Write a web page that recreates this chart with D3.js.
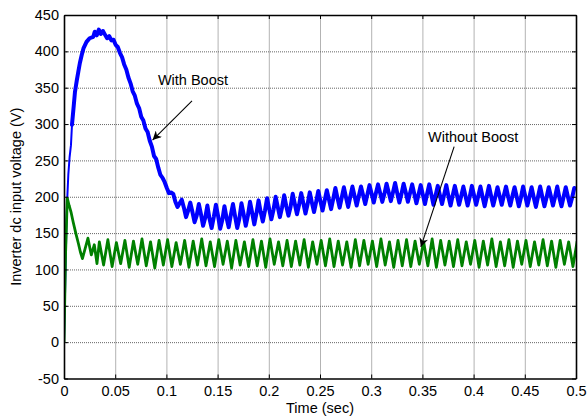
<!DOCTYPE html>
<html>
<head>
<meta charset="utf-8">
<script src="https://cdn.jsdelivr.net/npm/d3@7"></script>
<style>
  html, body { margin: 0; padding: 0; background: #fff; }
  svg { display: block; }
  text { font-family: "Liberation Sans", Arial, Helvetica, sans-serif; fill: #000; }
</style>
</head>
<body>
<svg id="chart" width="588" height="417"></svg>
<script>
// ---- data -------------------------------------------------------------
const xTickValues = [0, 0.05, 0.1, 0.15, 0.2, 0.25, 0.3, 0.35, 0.4, 0.45, 0.5];
const xTickLabels = ["0", "0.05", "0.1", "0.15", "0.2", "0.25", "0.3", "0.35", "0.4", "0.45", "0.5"];
const yTickValues = [-50, 0, 50, 100, 150, 200, 250, 300, 350, 400, 450];
const yTickLabels = ["-50", "0", "50", "100", "150", "200", "250", "300", "350", "400", "450"];

// With Boost: start-up transient as [time, volts]
const boostStartup = [
  [0, 0], [0.0015, 100], [0.0025, 170], [0.0032, 198], [0.0042, 230], [0.0055, 255],
  [0.0068, 271], [0.0078, 299], [0.0095, 325], [0.0107, 344], [0.0125, 360], [0.014, 372],
  [0.0155, 384], [0.0173, 395], [0.019, 404], [0.022, 413], [0.025, 418], [0.0286, 420],
  [0.030, 427], [0.032, 422], [0.034, 430], [0.036, 424], [0.038, 428]
];
// With Boost: samples every 1/480 s from 0.04 s onward
const boostStart = 0.04;
const boostStep = 1 / 480;
const boostSamples = [
  423, 418, 421, 415, 416, 409, 406, 398, 392, 382, 375, 364, 356, 345, 339, 328, 322, 310, 305, 294, 289, 277, 269, 256,
  252, 240, 230, 226, 220, 212, 205, 206, 204, 193, 186, 191, 196, 185, 172, 181, 192, 179, 165, 174, 190, 176, 160, 171,
  188, 170, 157, 172, 189, 174, 156, 168, 187, 171, 158, 175, 190, 173, 157, 170, 191, 176, 160, 174, 193, 178, 162, 177,
  195, 179, 166, 181, 198, 183, 169, 182, 200, 186, 172, 185, 202, 187, 174, 186, 204, 190, 176, 189, 205, 191, 177, 190,
  206, 192, 179, 193, 208, 194, 181, 195, 209, 196, 183, 197, 212, 198, 185, 199, 213, 199, 186, 200, 214, 201, 188, 201,
  214, 202, 190, 203, 216, 204, 192, 205, 217, 205, 193, 204, 218, 206, 194, 206, 219, 205, 192, 204, 218, 206, 193, 205,
  217, 204, 191, 203, 216, 203, 190, 204, 217, 203, 189, 202, 215, 202, 190, 203, 216, 201, 188, 202, 215, 202, 189, 201,
  214, 201, 188, 200, 215, 202, 189, 201, 214, 200, 187, 201, 215, 201, 188, 200, 213, 201, 189, 202, 214, 200, 188, 201,
  213, 200, 187, 199, 214, 201, 188, 200, 213, 199, 186, 200, 214, 200, 187, 199, 213, 201, 188, 200, 214, 199, 187, 200,
  213, 200, 188, 199, 212
];

// Without Boost: start-up transient as [time, volts]
const plainStartup = [
  [0, 0], [0.0015, 120], [0.0032, 198], [0.005, 188], [0.007, 178], [0.009, 165],
  [0.0115, 150], [0.014, 136], [0.016, 124], [0.018, 115], [0.0205, 128], [0.0234, 143],
  [0.0255, 128], [0.0267, 120], [0.0296, 134], [0.0322, 108]
];
// Without Boost: ripple peaks and troughs every 1/240 s from 0.0345 s onward
const plainStart = 0.0345;
const plainStep = 1 / 240;
const plainSamples = [
  138, 106, 141, 104, 137, 108, 140, 103, 139, 107, 142, 105, 138, 102, 140, 106, 141, 104, 137, 107,
  140, 103, 139, 106, 142, 105, 138, 104, 141, 107, 139, 102, 140, 106, 138, 104, 141, 105, 139, 103,
  142, 107, 138, 105, 140, 104, 139, 106, 141, 103, 138, 107, 140, 105, 142, 104, 139, 106, 138, 103,
  141, 105, 140, 107, 139, 104, 142, 106, 138, 103, 140, 105, 141, 104, 139, 107, 138, 105, 142, 103,
  140, 106, 139, 104, 141, 105, 138, 107, 140, 103, 139, 106, 142, 104, 138, 105, 141, 103, 139, 107,
  140, 104, 138, 106, 141, 105, 139, 103, 140, 107, 138, 104, 139
];

// ---- layout -----------------------------------------------------------
const svg = d3.select("#chart");
const plot = { left: 64, right: 576, top: 15, bottom: 378.5 };
const W = plot.right - plot.left, H = plot.bottom - plot.top;

const x = d3.scaleLinear().domain([0, 0.5]).range([plot.left, plot.right]);
const y = d3.scaleLinear().domain([-50, 450]).range([plot.bottom, plot.top]);

const FONT = 14.5;

// background
svg.append("rect").attr("width", 588).attr("height", 417).attr("fill", "#fff");

// dotted grid
const grid = svg.append("g").attr("class", "grid");
grid.append("g")
  .attr("transform", `translate(0,${plot.bottom})`)
  .call(d3.axisBottom(x).tickValues(xTickValues.slice(1, -1)).tickSize(-H).tickFormat(""));
grid.append("g")
  .attr("transform", `translate(${plot.left},0)`)
  .call(d3.axisLeft(y).tickValues(yTickValues.slice(1, -1)).tickSize(-W).tickFormat(""));
grid.selectAll(".domain").remove();
grid.selectAll("line")
  .attr("stroke", "#666").attr("stroke-width", 1).attr("stroke-dasharray", "1,1");

// traces
svg.append("clipPath").attr("id", "clip")
  .append("rect").attr("x", plot.left).attr("y", plot.top).attr("width", W).attr("height", H);

const boostSeries = boostStartup.concat(boostSamples.map((v, i) => [boostStart + i * boostStep, v]));
const plainSeries = plainStartup.concat(plainSamples.map((v, i) => [plainStart + i * plainStep, v]));

const line = d3.line().x(d => x(d[0])).y(d => y(d[1]));
const traces = svg.append("g").attr("clip-path", "url(#clip)");
// thin initial rise, then the thicker, noisy part of the trace
traces.append("path").datum(boostSeries.slice(0, 9)).attr("d", line)
  .attr("fill", "none").attr("stroke", "#0000ff").attr("stroke-width", 2)
  .attr("stroke-linejoin", "round");
traces.append("path").datum(boostSeries.slice(7)).attr("d", line)
  .attr("fill", "none").attr("stroke", "#0000ff").attr("stroke-width", 4)
  .attr("stroke-linejoin", "round").attr("stroke-linecap", "round");
traces.append("path").datum(plainSeries).attr("d", line)
  .attr("fill", "none").attr("stroke", "#008000").attr("stroke-width", 2.8)
  .attr("stroke-linejoin", "round");

// axes with inward ticks on all four sides
const TICK = 4;
const fmtX = (d, i) => xTickLabels[i];
const fmtY = (d, i) => yTickLabels[i];

const axB = svg.append("g").attr("transform", `translate(0,${plot.bottom})`)
  .call(d3.axisBottom(x).tickValues(xTickValues).tickFormat(fmtX).tickSizeInner(-TICK).tickSizeOuter(0).tickPadding(7));
const axL = svg.append("g").attr("transform", `translate(${plot.left},0)`)
  .call(d3.axisLeft(y).tickValues(yTickValues).tickFormat(fmtY).tickSizeInner(-TICK).tickSizeOuter(0).tickPadding(5));
const axT = svg.append("g").attr("transform", `translate(0,${plot.top})`)
  .call(d3.axisTop(x).tickValues(xTickValues).tickFormat("").tickSizeInner(-TICK).tickSizeOuter(0));
const axR = svg.append("g").attr("transform", `translate(${plot.right},0)`)
  .call(d3.axisRight(y).tickValues(yTickValues).tickFormat("").tickSizeInner(-TICK).tickSizeOuter(0));

[axB, axL, axT, axR].forEach(g => {
  g.selectAll(".domain").attr("stroke", "#000").attr("stroke-width", 1.6);
  g.selectAll(".tick line").attr("stroke", "#000").attr("stroke-width", 1);
  g.selectAll("text").attr("font-size", FONT).attr("font-family", null).attr("fill", "#000");
});

// axis titles
svg.append("text").attr("x", (plot.left + plot.right) / 2).attr("y", 413)
  .attr("text-anchor", "middle").attr("font-size", FONT).text("Time (sec)");
svg.append("text")
  .attr("transform", `translate(21,${(plot.top + plot.bottom) / 2}) rotate(-90)`)
  .attr("text-anchor", "middle").attr("font-size", FONT).text("Inverter dc input voltage (V)");

// annotations with arrows
const defs = svg.append("defs");
defs.append("marker").attr("id", "arrowhead")
  .attr("viewBox", "0 0 10 10").attr("refX", 10).attr("refY", 5)
  .attr("markerWidth", 12).attr("markerHeight", 9).attr("markerUnits", "userSpaceOnUse")
  .attr("orient", "auto")
  .append("path").attr("d", "M0,0 L10,5 L0,10 L3,5 Z").attr("fill", "#000");

const notes = [
  { label: "With Boost", tx: x(0.0917), ty: 85, from: [x(0.125), y(332)], to: [x(0.0865), y(278)] },
  { label: "Without Boost", tx: x(0.3555), ty: 142, from: [x(0.381), y(269)], to: [x(0.3485), y(131)] }
];
notes.forEach(n => {
  svg.append("text").attr("x", n.tx).attr("y", n.ty).attr("font-size", FONT).text(n.label);
  svg.append("line")
    .attr("x1", n.from[0]).attr("y1", n.from[1]).attr("x2", n.to[0]).attr("y2", n.to[1])
    .attr("stroke", "#000").attr("stroke-width", 1.1).attr("marker-end", "url(#arrowhead)");
});
</script>
</body>
</html>
